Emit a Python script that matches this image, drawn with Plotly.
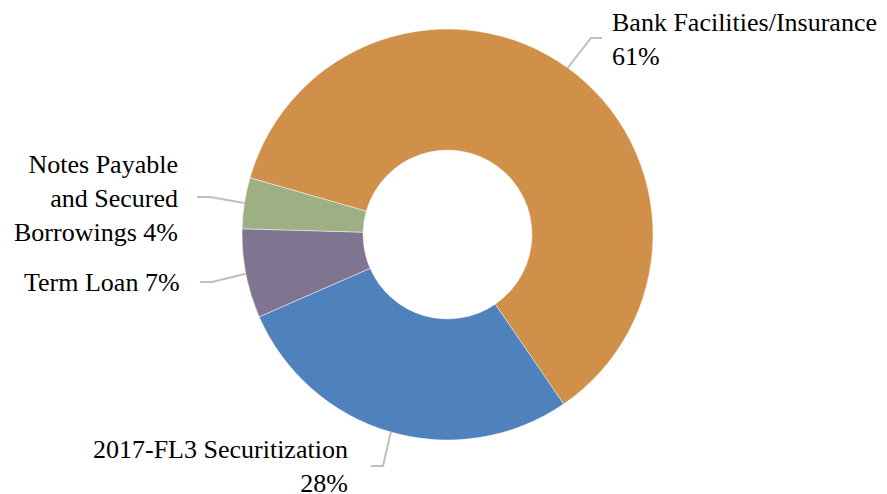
import math
import plotly.graph_objects as go

# ---- data ----
categories = ["Bank Facilities/Insurance", "2017-FL3 Securitization", "Term Loan",
              "Notes Payable and Secured Borrowings"]
values = [61, 28, 7, 4]
label_texts = ["Bank Facilities/Insurance<br>61%", "2017-FL3 Securitization<br>28%",
               "Term Loan 7%", "Notes Payable<br>and Secured<br>Borrowings 4%"]
colors = ["#D0904A", "#4F81BD", "#7F7591", "#9CB083"]

# ---- layout constants ----
W, H = 887, 494
ROT = 286
dom_x = [242 / W, 653 / W]
dom_y = [54 / H, 465 / H]
cx = (dom_x[0] + dom_x[1]) / 2 * W
cy_from_top = H - (dom_y[0] + dom_y[1]) / 2 * H
R = (dom_x[1] - dom_x[0]) * W / 2

# label placement (pixels from top-left): text anchor x, text center y, xanchor, align,
# elbow point, line end point
label_layout = [
    dict(x=611, y=40, xanchor="left", align="left", elbow=(591, 38), end=(602, 38)),
    dict(x=349, y=466, xanchor="right", align="right", elbow=(383, 466), end=(371, 466)),
    dict(x=181, y=282, xanchor="right", align="right", elbow=(212, 282), end=(200, 282)),
    dict(x=179, y=198, xanchor="right", align="right", elbow=(210, 197), end=(197, 197)),
]

def px(x):
    return x / W

def py(y):
    return 1 - y / H

fig = go.Figure(go.Pie(
    labels=categories, values=values, sort=False, direction="clockwise",
    rotation=ROT, hole=0.411, textinfo="none", hoverinfo="label+percent",
    marker=dict(colors=colors, line=dict(color="rgba(255,255,255,0.6)", width=0.75)),
    domain=dict(x=dom_x, y=dom_y), showlegend=False,
))

total = sum(values)
cum = 0
shapes = []
annotations = []
for v, txt, lay in zip(values, label_texts, label_layout):
    mid = ROT + (cum + v / 2) / total * 360
    cum += v
    a = math.radians(mid)
    ex = cx + R * math.sin(a)
    ey = cy_from_top - R * math.cos(a)
    pts = [(ex, ey), lay["elbow"], lay["end"]]
    path = "M {} {} L {} {} L {} {}".format(
        px(pts[0][0]), py(pts[0][1]), px(pts[1][0]), py(pts[1][1]), px(pts[2][0]), py(pts[2][1]))
    shapes.append(dict(type="path", path=path, xref="paper", yref="paper",
                       line=dict(color="#BFBFBF", width=2)))
    annotations.append(dict(text=txt, x=px(lay["x"]), y=py(lay["y"]), xref="paper", yref="paper",
                            xanchor=lay["xanchor"], yanchor="middle", align=lay["align"],
                            showarrow=False, borderpad=0,
                            font=dict(family="Liberation Serif", size=26, color="#000000")))

fig.update_layout(
    width=W, height=H, margin=dict(l=0, r=0, t=0, b=0),
    paper_bgcolor="white", plot_bgcolor="white",
    font=dict(family="Liberation Serif"),
    shapes=shapes, annotations=annotations,
)

fig.write_html("out.html")
